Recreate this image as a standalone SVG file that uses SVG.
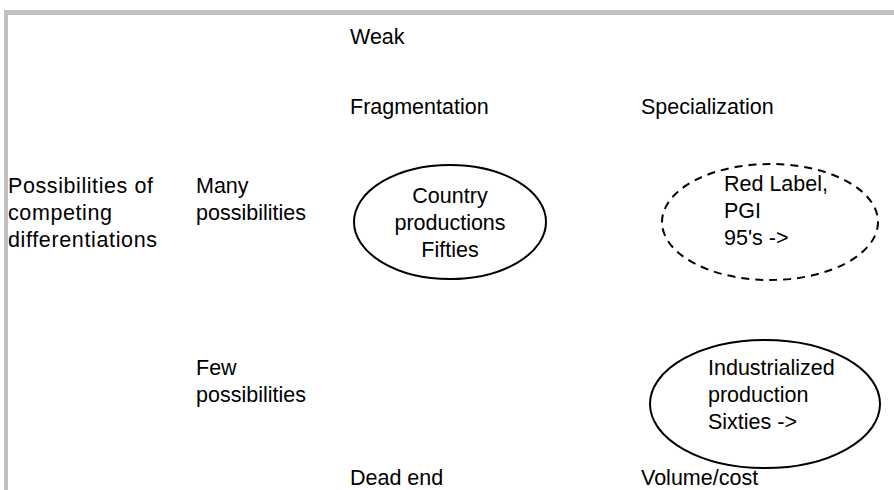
<svg xmlns="http://www.w3.org/2000/svg" width="894" height="490" viewBox="0 0 894 490">
<style>
text{font-family:"Liberation Sans",Arial,sans-serif;font-size:21.5px;fill:#000}
.c{text-anchor:middle}
.e{fill:none;stroke:#000;stroke-width:2}
.d{stroke-dasharray:8 6}
.frame{fill:#c0c0c0}
</style>
<rect class="frame" x="4" y="10" width="890" height="5"/>
<rect class="frame" x="4" y="10" width="4" height="480"/>
<g id="labels">
<text x="350" y="44">Weak</text>
<text x="350" y="114">Fragmentation</text>
<text x="641" y="114">Specialization</text>
<text x="8" y="193" textLength="145" lengthAdjust="spacing">Possibilities of</text>
<text x="8" y="220" textLength="104" lengthAdjust="spacing">competing</text>
<text x="8" y="247" textLength="149" lengthAdjust="spacing">differentiations</text>
<text x="196" y="193">Many</text>
<text x="196" y="220" textLength="110" lengthAdjust="spacing">possibilities</text>
<text x="196" y="375">Few</text>
<text x="196" y="402" textLength="110" lengthAdjust="spacing">possibilities</text>
<text x="350" y="485">Dead end</text>
<text x="641" y="485">Volume/cost</text>
</g>
<g id="country">
<ellipse class="e" cx="450" cy="222" rx="96" ry="57"/>
<text class="c" x="450" y="203">Country</text>
<text class="c" x="450" y="230">productions</text>
<text class="c" x="450" y="257">Fifties</text>
</g>
<g id="redlabel">
<ellipse class="e d" cx="770" cy="222" rx="108" ry="58"/>
<text x="724" y="191">Red Label,</text>
<text x="724" y="218">PGI</text>
<text x="724" y="245">95's -&gt;</text>
</g>
<g id="industrial">
<ellipse class="e" cx="765" cy="404" rx="115" ry="64"/>
<text x="708" y="375">Industrialized</text>
<text x="708" y="402">production</text>
<text x="708" y="429">Sixties -&gt;</text>
</g>
<g id="connectors"/>
</svg>
